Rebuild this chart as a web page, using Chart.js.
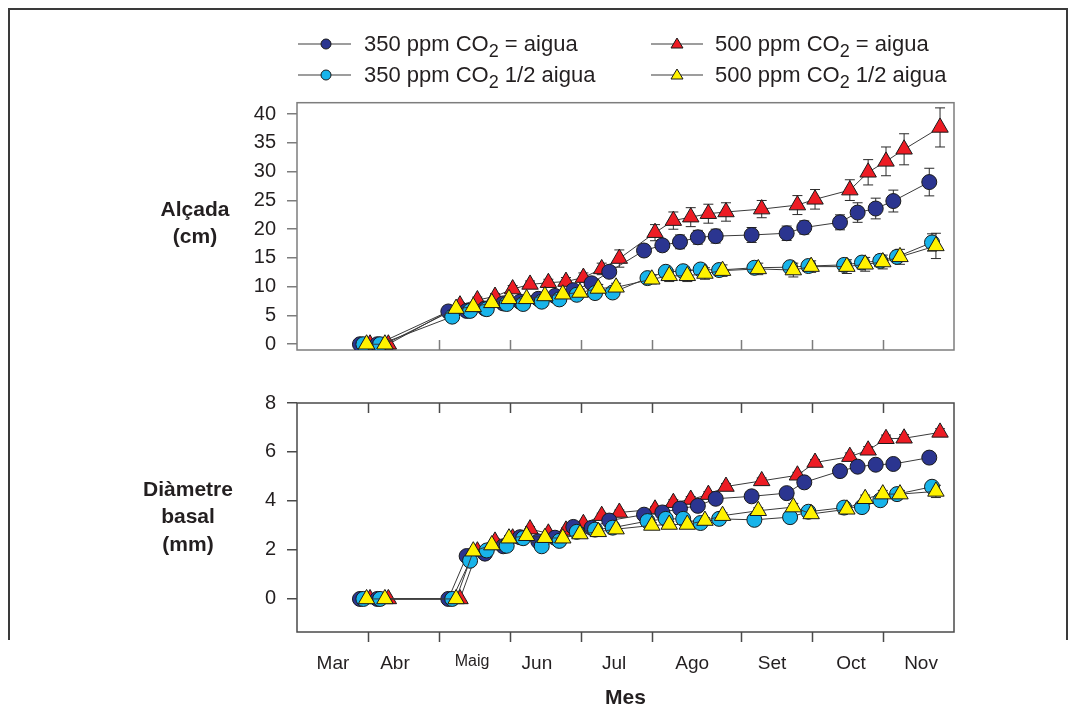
<!DOCTYPE html>
<html>
<head>
<meta charset="utf-8">
<script src="https://cdn.jsdelivr.net/npm/chart.js@4"></script>
<style>
html,body{margin:0;padding:0;background:#fff;}
#wrap{position:relative;width:1074px;height:720px;overflow:hidden;font-family:"Liberation Sans",Arial,sans-serif;color:#231f20;}
#frame{position:absolute;left:8px;top:8px;width:1056px;height:630px;border-left:2px solid #3a3a3a;border-top:2px solid #3a3a3a;border-right:2px solid #3a3a3a;}
canvas{position:absolute;left:0;}
#c1{top:0;}
#c2{top:380px;}
.leg{position:absolute;font-size:22px;line-height:26px;white-space:nowrap;}
.leg sub{font-size:18px;vertical-align:-6px;line-height:0;}
.icon{position:absolute;}
.ytitle{position:absolute;width:160px;text-align:center;font-weight:bold;font-size:21px;}
</style>
</head>
<body>
<div id="wrap">
  <div id="frame"></div>
  <canvas id="c1" width="1074" height="380"></canvas>
  <canvas id="c2" width="1074" height="340"></canvas>

  <svg class="icon" style="left:296px;top:34px" width="60" height="20"><line x1="2" y1="10" x2="55" y2="10" stroke="#3c3c3c" stroke-width="1.2"/><circle cx="30" cy="10" r="5" fill="#2b3590" stroke="#1a1a1a" stroke-width="1"/></svg>
  <div class="leg" style="left:364px;top:31px">350 ppm CO<sub>2</sub> = aigua</div>
  <svg class="icon" style="left:649px;top:34px" width="60" height="20"><line x1="2" y1="10" x2="54" y2="10" stroke="#3c3c3c" stroke-width="1.2"/><polygon points="28,4 34,14 22,14" fill="#ed1c24" stroke="#1a1a1a" stroke-width="1"/></svg>
  <div class="leg" style="left:715px;top:31px">500 ppm CO<sub>2</sub> = aigua</div>
  <svg class="icon" style="left:296px;top:65px" width="60" height="20"><line x1="2" y1="10" x2="55" y2="10" stroke="#3c3c3c" stroke-width="1.2"/><circle cx="30" cy="10" r="5" fill="#18b4ea" stroke="#1a1a1a" stroke-width="1"/></svg>
  <div class="leg" style="left:364px;top:62px">350 ppm CO<sub>2</sub> 1/2 aigua</div>
  <svg class="icon" style="left:649px;top:65px" width="60" height="20"><line x1="2" y1="10" x2="54" y2="10" stroke="#3c3c3c" stroke-width="1.2"/><polygon points="28,4 34,14 22,14" fill="#fff200" stroke="#1a1a1a" stroke-width="1"/></svg>
  <div class="leg" style="left:715px;top:62px">500 ppm CO<sub>2</sub> 1/2 aigua</div>

  <div class="ytitle" style="left:115px;top:196px;line-height:26.5px">Alçada<br>(cm)</div>
  <div class="ytitle" style="left:108px;top:475px;line-height:27.3px">Diàmetre<br>basal<br>(mm)</div>
</div>
<script>
// ---- X axis (days from 1 March) ----
const monthEdges = [0, 31, 62, 93, 124, 155, 194, 225, 256, 287];
const monthLabels = ['Mar', 'Abr', 'Maig', 'Jun', 'Jul', 'Ago', 'Set', 'Oct', 'Nov'];
const monthLabelPos = [15.7, 42.8, 76.5, 104.8, 138.5, 172.6, 207.5, 242.0, 272.6];

// ---- sampling dates per series ----
const dDark   = [27.5, 35.1, 66.1, 74.1, 82.1, 90.1, 97.4, 105.4, 112.7, 120.7, 128.7, 136.4, 151.6, 159.6, 167.3, 175.1, 182.9, 198.6, 213.9, 221.6, 237.2, 244.9, 252.8, 260.5, 276.2];
const dCyan   = [29.0, 36.3, 67.8, 75.6, 82.9, 91.6, 98.8, 106.9, 114.6, 122.2, 130.2, 137.9, 153.1, 161.1, 168.7, 176.3, 184.4, 199.8, 215.4, 223.4, 239.0, 246.8, 254.8, 262.1, 277.4];
const dYellow = [30.4, 38.4, 69.5, 77.0, 85.1, 92.6, 100.3, 108.3, 116.1, 123.6, 131.6, 139.4, 155.0, 162.6, 170.5, 178.2, 185.9, 201.5, 216.8, 224.6, 240.2, 248.2, 255.9, 263.4, 279.1];
const dRed    = [31.9, 39.9, 71.2, 78.8, 86.5, 94.2, 101.8, 109.8, 117.5, 125.1, 133.1, 140.8, 156.4, 164.4, 172.0, 179.7, 187.4, 203.0, 218.6, 226.3, 241.5, 249.5, 257.3, 265.2, 280.9];

// ---- Alçada (cm) ----
const hDark   = [0, 0, 5.7, 5.8, 6.2, 7.1, 7.4, 7.9, 8.4, 9.4, 10.6, 12.6, 16.3, 17.2, 17.8, 18.6, 18.8, 19.0, 19.3, 20.3, 21.2, 22.9, 23.6, 24.9, 28.2];
const hCyan   = [0, 0, 4.8, 5.8, 6.1, 7.0, 7.0, 7.4, 7.8, 8.6, 8.9, 9.0, 11.5, 12.6, 12.7, 13.0, 12.9, 13.3, 13.4, 13.6, 13.8, 14.2, 14.5, 15.2, 17.7];
const hYellow = [0, 0, 6.2, 6.5, 7.2, 7.9, 7.9, 8.4, 8.7, 9.0, 9.7, 9.9, 11.3, 11.9, 11.9, 12.3, 12.8, 13.1, 12.9, 13.5, 13.5, 13.9, 14.3, 15.2, 17.1];
const hRed    = [0, 0, 6.8, 7.7, 8.3, 9.6, 10.4, 10.7, 10.9, 11.6, 13.1, 14.9, 19.4, 21.5, 22.1, 22.7, 23.0, 23.5, 24.2, 25.2, 26.8, 29.9, 31.8, 33.9, 37.7];
const hErrDark   = [0, 0, 0.3, 0.3, 0.4, 0.4, 0.4, 0.5, 0.5, 0.6, 0.7, 0.9, 0.9, 1.0, 1.2, 1.2, 1.2, 1.3, 1.25, 1.15, 1.3, 1.7, 1.8, 1.9, 2.4];
const hErrCyan   = [0, 0, 0.3, 0.3, 0.3, 0.4, 0.4, 0.4, 0.4, 0.5, 0.5, 0.6, 0.6, 0.8, 0.7, 0.8, 0.8, 0.8, 0.8, 0.8, 0.9, 0.9, 1.0, 1.0, 1.5];
const hErrYellow = [0, 0, 0.4, 0.4, 0.4, 0.5, 0.5, 0.5, 0.6, 0.6, 0.7, 0.7, 0.8, 1.0, 1.0, 1.0, 1.0, 1.0, 1.2, 1.0, 1.2, 1.2, 1.2, 1.3, 2.2];
const hErrRed    = [0, 0, 0.4, 0.5, 0.5, 0.6, 0.6, 0.6, 0.7, 0.8, 1.0, 1.5, 1.4, 1.5, 1.65, 1.65, 1.6, 1.5, 1.65, 1.7, 1.8, 2.2, 2.5, 2.7, 3.4];
const hTicks = [0, 5, 10, 15, 20, 25, 30, 35, 40];

// ---- Diàmetre basal (mm) ----
const dmDark   = [0, 0, 0, 1.75, 1.85, 2.15, 2.52, 2.35, 2.5, 2.94, 2.9, 3.2, 3.44, 3.53, 3.69, 3.8, 4.09, 4.19, 4.32, 4.76, 5.22, 5.4, 5.48, 5.51, 5.77];
const dmCyan   = [0, 0, 0, 1.56, 1.98, 2.17, 2.48, 2.15, 2.37, 2.74, 2.83, 2.91, 3.18, 3.27, 3.27, 3.1, 3.27, 3.23, 3.34, 3.56, 3.73, 3.75, 4.03, 4.28, 4.58];
const dmYellow = [0, 0, 0, 1.95, 2.2, 2.48, 2.58, 2.5, 2.48, 2.65, 2.74, 2.85, 3.0, 3.04, 3.04, 3.2, 3.4, 3.6, 3.75, 3.47, 3.66, 4.09, 4.28, 4.28, 4.39];
const dmRed    = [0, 0, 0, 1.95, 2.35, 2.48, 2.85, 2.68, 2.8, 3.07, 3.4, 3.53, 3.66, 3.93, 4.06, 4.26, 4.59, 4.82, 5.05, 5.57, 5.81, 6.07, 6.54, 6.56, 6.8];
const dmErrDark   = [0, 0, 0, 0.1, 0.1, 0.1, 0.1, 0.1, 0.1, 0.1, 0.1, 0.1, 0.1, 0.1, 0.1, 0.12, 0.12, 0.12, 0.12, 0.15, 0.15, 0.15, 0.15, 0.15, 0.18];
const dmErrCyan   = [0, 0, 0, 0.1, 0.1, 0.1, 0.1, 0.1, 0.1, 0.1, 0.1, 0.1, 0.1, 0.1, 0.1, 0.1, 0.12, 0.12, 0.12, 0.12, 0.12, 0.12, 0.15, 0.15, 0.18];
const dmErrYellow = [0, 0, 0, 0.1, 0.1, 0.1, 0.1, 0.1, 0.1, 0.1, 0.1, 0.1, 0.12, 0.12, 0.12, 0.12, 0.12, 0.12, 0.15, 0.15, 0.15, 0.15, 0.15, 0.15, 0.25];
const dmErrRed    = [0, 0, 0, 0.1, 0.1, 0.1, 0.1, 0.1, 0.1, 0.1, 0.1, 0.1, 0.1, 0.12, 0.12, 0.12, 0.12, 0.12, 0.12, 0.12, 0.15, 0.15, 0.15, 0.15, 0.15];
const dmTicks = [0, 2, 4, 6, 8];

const FONT = '"Liberation Sans", Arial, sans-serif';
const TXT = '#231f20';

function pts(xs, ys) { return xs.map((x, i) => ({ x: x, y: ys[i] })); }

function mkSet(label, xs, ys, errs, fill, style, radius, order) {
  return {
    label: label, data: pts(xs, ys), errs: errs, order: order,
    borderColor: '#3a3a3a', borderWidth: 1, tension: 0,
    pointStyle: style, pointRadius: radius, pointHoverRadius: radius,
    pointBackgroundColor: fill, pointBorderColor: '#1a1a1a', pointBorderWidth: 1
  };
}

const decor = {
  id: 'decor',
  beforeDatasetsDraw(chart, args, opts) {
    const ctx = chart.ctx, a = chart.chartArea, xs = chart.scales.x, ys = chart.scales.y;
    ctx.save();
    // error bars
    ctx.strokeStyle = '#2a2a2a'; ctx.lineWidth = 1;
    chart.data.datasets.forEach(ds => {
      ds.data.forEach((p, i) => {
        const e = ds.errs[i];
        if (!e) return;
        const px = xs.getPixelForValue(p.x);
        const y1 = ys.getPixelForValue(p.y + e), y2 = ys.getPixelForValue(p.y - e);
        ctx.beginPath();
        ctx.moveTo(px, y1); ctx.lineTo(px, y2);
        ctx.moveTo(px - 5, y1); ctx.lineTo(px + 5, y1);
        ctx.moveTo(px - 5, y2); ctx.lineTo(px + 5, y2);
        ctx.stroke();
      });
    });
    // frame
    ctx.strokeStyle = opts.color; ctx.lineWidth = 1.5;
    ctx.strokeRect(a.left, a.top, a.right - a.left, a.bottom - a.top);
    // month boundary ticks
    ctx.beginPath();
    monthEdges.slice(1, -1).forEach(v => {
      const px = Math.round(xs.getPixelForValue(v)) + 0.5;
      if (opts.mode === 'top') { ctx.moveTo(px, a.bottom); ctx.lineTo(px, a.bottom - 10); }
      else {
        ctx.moveTo(px, a.top); ctx.lineTo(px, a.top + 10);
        ctx.moveTo(px, a.bottom); ctx.lineTo(px, a.bottom + 10);
      }
    });
    ctx.stroke();
    ctx.restore();
  }
};

function yScale(min, max, ticks, color) {
  return {
    type: 'linear', min: min, max: max,
    afterFit(s) { s.width = 297; },
    afterBuildTicks(s) { s.ticks = ticks.map(v => ({ value: v })); },
    grid: { drawOnChartArea: false, drawTicks: true, tickLength: 10, color: color, lineWidth: 1.5 },
    border: { display: false },
    ticks: { padding: 11, color: TXT, font: { size: 20, family: FONT } }
  };
}

Chart.defaults.animation = false;
Chart.defaults.font.family = FONT;

const CR = 7.5, TR = 9.5;

new Chart(document.getElementById('c1'), {
  type: 'line',
  data: { datasets: [
    mkSet('350 ppm CO2 = aigua', dDark, hDark, hErrDark, '#2b3590', 'circle', CR, 2),
    mkSet('500 ppm CO2 = aigua', dRed, hRed, hErrRed, '#ed1c24', 'triangle', TR, 3),
    mkSet('350 ppm CO2 1/2 aigua', dCyan, hCyan, hErrCyan, '#18b4ea', 'circle', CR, 1),
    mkSet('500 ppm CO2 1/2 aigua', dYellow, hYellow, hErrYellow, '#fff200', 'triangle', TR, 0)
  ]},
  options: {
    responsive: false, animation: false,
    layout: { padding: { left: 0, right: 120, top: 102.7, bottom: 30 } },
    plugins: { legend: { display: false }, tooltip: { enabled: false }, decor: { color: '#7d7d7d', mode: 'top' } },
    scales: {
      x: { type: 'linear', min: monthEdges[0], max: monthEdges[monthEdges.length - 1], display: false },
      y: yScale(-1, 42, hTicks, '#7d7d7d')
    }
  },
  plugins: [decor]
});

new Chart(document.getElementById('c2'), {
  type: 'line',
  data: { datasets: [
    mkSet('350 ppm CO2 = aigua', dDark, dmDark, dmErrDark, '#2b3590', 'circle', CR, 2),
    mkSet('500 ppm CO2 = aigua', dRed, dmRed, dmErrRed, '#ed1c24', 'triangle', TR, 3),
    mkSet('350 ppm CO2 1/2 aigua', dCyan, dmCyan, dmErrCyan, '#18b4ea', 'circle', CR, 1),
    mkSet('500 ppm CO2 1/2 aigua', dYellow, dmYellow, dmErrYellow, '#fff200', 'triangle', TR, 0)
  ]},
  options: {
    responsive: false, animation: false,
    layout: { padding: { left: 0, right: 120, top: 15, bottom: 0 } },
    plugins: { legend: { display: false }, tooltip: { enabled: false }, decor: { color: '#4a4a4a', mode: 'bottom' } },
    scales: {
      x: {
        type: 'linear', position: 'bottom',
        min: monthEdges[0], max: monthEdges[monthEdges.length - 1],
        afterFit(s) { s.height = 88; },
        afterBuildTicks(s) { s.ticks = monthLabelPos.map(v => ({ value: v })); },
        grid: { display: false, drawTicks: false },
        border: { display: false },
        ticks: {
          autoSkip: false, maxRotation: 0, padding: 20, color: TXT,
          callback: (v, i) => monthLabels[i],
          font: (c) => ({ size: (c.tick && monthLabels[c.index] === 'Maig') ? 16 : 19, family: FONT })
        },
        title: { display: true, text: 'Mes', color: TXT, font: { size: 21, weight: 'bold', family: FONT }, padding: { top: 0, bottom: 9 } }
      },
      y: yScale(-1.35, 8, dmTicks, '#4a4a4a')
    }
  },
  plugins: [decor]
});
</script>
</body>
</html>
